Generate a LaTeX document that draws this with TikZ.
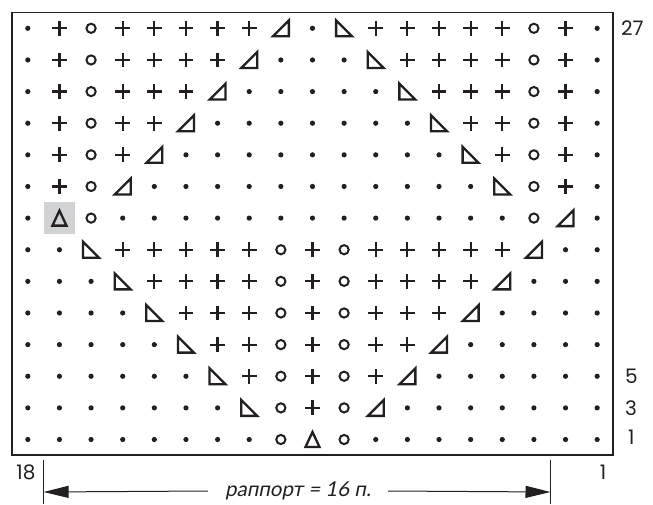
\documentclass[tikz,border=0pt]{standalone}
\usepackage{fontspec}
\setmainfont{Poppins}
\newfontfamily\rapfont[FakeSlant=0.2]{Lato}
\usetikzlibrary{arrows.meta}
\definecolor{ink}{HTML}{231F20}
\definecolor{cellgray}{HTML}{D1D2D4}
\tikzset{
  gridframe/.style={draw=ink, line width=1.7pt},
  symline/.style={draw=ink, line width=2.3pt, line join=miter},
  thinline/.style={draw=ink, line width=1pt},
  numlabel/.style={font=\fontsize{20}{22}\selectfont, text=ink, inner sep=0pt},
  raplabel/.style={font=\rapfont\fontsize{20.5}{22}\selectfont, text=ink, inner ysep=0pt, inner xsep=17pt},
  raparrow/.style={thinline, -{Triangle[length=25pt,width=12pt]}}
}
\newcommand\symd[1]{\fill[ink] (#1) circle (2.6);}
\newcommand\symp[1]{\draw[symline, line width=2.2pt, shift={(#1)}] (-7.4,0) -- (7.4,0) (0,-7.4) -- (0,7.4);}
\newcommand\symo[1]{\draw[symline, line width=2pt] (#1) circle (4.6);}
\newcommand\syml[1]{\draw[symline, shift={(#1)}] (-8,8) -- (8,8) -- (8,-8) -- cycle;}
\newcommand\symr[1]{\draw[symline, shift={(#1)}] (-8,-8) -- (-8,8) -- (8,8) -- cycle;}
\newcommand\syma[1]{\draw[symline, shift={(#1)}] (-7,7.5) -- (7,7.5) -- (0,-7.5) -- cycle;}
\begin{document}
\begin{tikzpicture}[x=1pt, y=-1pt]
\useasboundingbox (0,0) rectangle (653,504);
% shaded cell
\fill[cellgray] (43.6,202.3) rectangle (75.3,233.9);
% frame
\draw[gridframe] (12,12.5) rectangle (613,455.3);
% symbols
\foreach [count=\r] \row in {
 {d,p,o,p,p,p,p,p,l,d,r,p,p,p,p,p,o,p,d},
 {d,p,o,p,p,p,p,l,d,d,d,r,p,p,p,p,o,p,d},
 {d,p,o,p,p,p,l,d,d,d,d,d,r,p,p,p,o,p,d},
 {d,p,o,p,p,l,d,d,d,d,d,d,d,r,p,p,o,p,d},
 {d,p,o,p,l,d,d,d,d,d,d,d,d,d,r,p,o,p,d},
 {d,p,o,l,d,d,d,d,d,d,d,d,d,d,d,r,o,p,d},
 {d,a,o,d,d,d,d,d,d,d,d,d,d,d,d,d,o,l,d},
 {d,d,r,p,p,p,p,p,o,p,o,p,p,p,p,p,l,d,d},
 {d,d,d,r,p,p,p,p,o,p,o,p,p,p,p,l,d,d,d},
 {d,d,d,d,r,p,p,p,o,p,o,p,p,p,l,d,d,d,d},
 {d,d,d,d,d,r,p,p,o,p,o,p,p,l,d,d,d,d,d},
 {d,d,d,d,d,d,r,p,o,p,o,p,l,d,d,d,d,d,d},
 {d,d,d,d,d,d,d,r,o,p,o,l,d,d,d,d,d,d,d},
 {d,d,d,d,d,d,d,d,o,a,o,d,d,d,d,d,d,d,d}}{
  \foreach [count=\c] \s in \row {
    \coordinate (c\r-\c) at ({12+(\c-0.5)*31.63},{12.5+(\r-0.5)*31.63});
    \csname sym\s\endcsname{c\r-\c}
  }
}
% row numbers
\node[numlabel, anchor=west] (n27) at (621,28.5) {27};
\node[numlabel, anchor=west] (n5) at (625,376.2) {5};
\node[numlabel, anchor=west] (n3) at (625,407.8) {3};
\node[numlabel, anchor=west] (n1) at (628,437.5) {1};
% stitch numbers
\node[numlabel] (s18) at (26,472) {18};
\node[numlabel] (s1) at (603,472) {1};
% rapport marks
\coordinate (lt) at (43.6,460);
\coordinate (lb) at (43.6,504);
\coordinate (rt) at (550.5,460);
\coordinate (rb) at (550.5,504);
\coordinate (la) at (43.6,492);
\coordinate (ra) at (550.5,492);
\draw[thinline] (lt) -- (lb);
\draw[thinline] (rt) -- (rb);
\node[raplabel] (rap) at (298,491) {раппорт = 16 п.};
\draw[raparrow] (rap.west) -- (la);
\draw[raparrow] (rap.east) -- (ra);
\end{tikzpicture}
\end{document}
